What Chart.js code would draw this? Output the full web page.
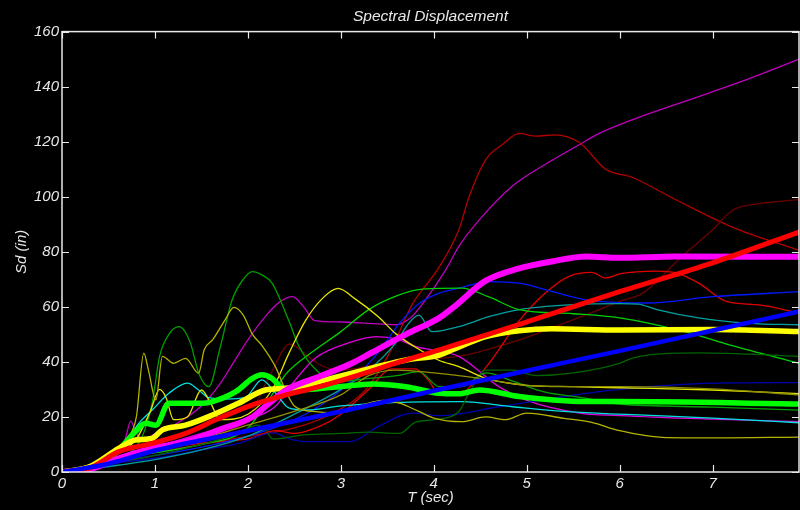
<!DOCTYPE html>
<html>
<head>
<meta charset="utf-8">
<title>Spectral Displacement</title>
<script src="https://cdn.jsdelivr.net/npm/chart.js@4.4.1/dist/chart.umd.min.js"></script>
<style>
  html, body { margin: 0; padding: 0; background: #000; }
  #wrap { width: 800px; height: 510px; }
</style>
</head>
<body>
<div id="wrap"><canvas id="sdChart" width="800" height="510"></canvas></div>
<script>
// Each record is a list of [T (sec), Sd (in)] pairs

// individual records (thin lines)
const recPurple = [[0,0],[0.3,1],[0.55,5],[0.68,12],[0.74,18.5],[0.8,14],[0.9,12],[1.0,14],[1.2,17],[1.5,24],[1.7,32],[1.85,40],[2.0,48],[2.2,57],[2.35,62],[2.48,63.7],[2.6,60],[2.72,55],[3.0,54.5],[3.3,54],[3.6,53.5],[3.75,56],[3.91,62.5],[4.13,73.5],[4.27,82],[4.49,91.6],[4.85,104],[5.21,112],[5.57,119],[5.78,123],[6.3,130],[6.86,136.5],[7.4,143],[7.93,150]];
const recDarkRed = [[0,0],[0.5,4],[1,7],[1.5,10],[2,13],[2.5,16],[2.95,22],[3.27,30],[3.52,43],[3.77,61],[4.04,73.5],[4.27,88],[4.38,100],[4.56,113.5],[4.74,119],[4.92,123],[5.1,122],[5.3,122.5],[5.57,119.6],[5.85,110],[6.14,107],[6.6,99],[7.21,89],[7.93,80.5]];
const recMaroon = [[0,0],[0.5,4],[1,8],[1.5,12],[2,20],[2.25,36],[2.45,46.5],[2.65,42],[2.8,38.5],[3.0,37],[3.44,39.5],[3.73,40.7],[4.27,42],[4.92,48],[5.4,54],[5.78,59],[6.0,62],[6.25,65],[6.67,78.3],[7.0,88],[7.21,95],[7.5,97.5],[7.72,98.3],[7.93,99]];
const recRed = [[0,0],[0.5,4],[1,8],[1.5,10.5],[2,12],[2.3,15],[2.5,14],[2.8,17],[3.0,21],[3.3,30],[3.55,37.5],[3.8,37.5],[3.95,33],[4.06,28],[4.25,28],[4.56,38],[4.92,55],[5.2,65],[5.45,71],[5.7,72.5],[5.85,70.5],[6.0,72],[6.4,73],[6.6,72.4],[6.85,68.6],[7.15,62],[7.5,60.7],[7.93,57.8]];
const recBlue = [[0,0],[0.5,3],[1,6],[1.5,9],[2,13],[2.5,19],[2.9,27],[3.2,36],[3.4,43.3],[3.63,54],[3.85,61.4],[4.06,65],[4.27,66.8],[4.6,69.2],[4.92,68.6],[5.27,65.6],[5.64,62.5],[6,61.5],[6.3,61.4],[7,63.7],[7.93,65.5]];
const recNavy = [[0,0],[0.5,3],[1,5],[1.5,8],[1.9,10.4],[2.27,14.2],[2.45,12],[2.62,11],[3.1,11],[3.4,16.5],[3.77,21.4],[4.06,20.5],[4.7,23.7],[5.4,27.4],[6,30],[7,32.3],[7.93,32.5]];
const recTeal = [[0,0],[0.5,2],[1,4.5],[1.5,8],[2,13],[2.5,21],[3,30],[3.3,37],[3.59,46.8],[3.73,54],[3.84,57],[3.98,51],[4.27,52.8],[4.6,56.5],[4.92,59],[5.45,60.7],[6,61.2],[6.2,61],[6.4,59],[6.85,56],[7.4,54],[7.93,53.5]];
const recCyan = [[0,0],[0.3,2],[0.55,7],[0.72,12.8],[0.83,17.8],[0.97,22.5],[1.15,28.6],[1.35,32.3],[1.47,29.8],[1.58,27],[1.76,26.5],[1.97,27],[2.15,33.5],[2.3,28.6],[2.44,23.3],[2.62,22.5],[3,24],[3.6,25.3],[4.3,25.6],[4.85,23.7],[5.4,22],[6,21],[7,19.6],[7.93,17.9]];
const recPink = [[0,0],[0.5,4],[1,9],[1.5,14],[2,19],[2.3,24],[2.5,33],[2.73,41.5],[3.09,47],[3.38,49.2],[3.63,48],[3.8,45.6],[4.27,42],[4.7,31],[5.0,26],[5.57,21.4],[6,20.5],[7,19.2],[7.93,18.3]];
const recGreenPeak = [[0,0],[0.3,1.5],[0.6,5],[0.85,12],[0.97,25],[1.05,42],[1.15,50],[1.26,52.8],[1.38,47],[1.47,36],[1.58,31],[1.7,45],[1.83,62.5],[1.95,70],[2.05,72.8],[2.15,71.6],[2.26,68.6],[2.44,55],[2.55,45.6],[2.77,36],[3.0,33],[3.3,34],[3.6,35],[3.84,36.5],[4.06,31],[4.3,31],[4.56,36],[4.85,33],[5.2,29],[5.6,27],[6,24.7],[7,23.6],[7.93,22.5]];
const recGreen = [[0,0],[0.5,4],[1,7],[1.5,10],[2,16],[2.2,25],[2.42,36],[2.68,43.3],[3.0,51],[3.3,59],[3.6,64],[3.9,66.5],[4.3,66.8],[4.6,63.5],[4.92,59],[5.5,57.5],[6,56],[6.7,51],[7.2,46],[7.93,39.5]];
const recDarkGreen = [[0,0],[0.5,3],[1,6],[1.5,10],[1.9,14],[2.1,17],[2.19,15.3],[2.27,12],[2.6,13.5],[3.0,14],[3.3,14.5],[3.63,14],[3.8,18],[4.0,19],[4.27,22],[4.37,28],[4.56,37],[4.85,37],[5.1,35],[5.5,36],[6.0,39.5],[6.15,41.5],[6.86,43.3],[7.93,42]];
const recOlive = [[0,0],[0.3,2],[0.55,6],[0.7,12],[0.8,20],[0.88,43.2],[0.93,37],[1.01,26.2],[1.08,42],[1.2,39.5],[1.33,41.3],[1.47,35.9],[1.53,44.4],[1.62,48],[1.75,55],[1.85,59.8],[1.95,57],[2.05,50],[2.15,46],[2.3,38],[2.4,30],[2.5,24],[2.7,22],[2.95,21.5],[3.2,24],[3.45,26],[3.63,25],[3.84,22],[4.0,19.6],[4.3,18.3],[4.56,20],[4.77,19],[5.0,21.4],[5.4,19.5],[5.7,18],[6.0,15],[6.5,12.5],[7.0,12.4],[7.93,12.7]];
const recYellow = [[0,0],[0.5,5],[0.8,12],[0.95,22],[1.05,30],[1.12,27],[1.2,19],[1.35,20],[1.5,29.8],[1.6,25],[1.7,19],[2.0,21],[2.26,29.8],[2.44,43],[2.62,55],[2.8,63],[2.97,66.7],[3.15,63],[3.4,56.5],[3.6,50],[3.85,44.4],[4.06,40.5],[4.27,38.3],[4.56,34],[5.0,31.5],[5.5,31],[6,30.6],[7,29.8],[7.93,28.5]];
const recOliveFlat = [[0,0],[0.5,4],[1,8],[1.5,12],[2,17],[2.5,22],[3.0,28],[3.3,35],[3.6,37],[4.0,36],[4.5,34],[5.0,31.5],[5.5,31],[6,31],[7,30.2],[7.93,28]];

// summary spectra (thick lines)
const thickMagenta = [[0,0],[0.3,1],[0.61,5],[0.97,8.6],[1.33,11],[1.69,15.3],[2.05,20],[2.23,25],[2.41,29.8],[2.77,34.7],[3.12,39.5],[3.34,43.5],[3.7,50],[4.06,56],[4.2,59.5],[4.56,69.5],[4.92,74],[5.27,76.5],[5.64,78.3],[6,77.8],[6.6,78.3],[7.93,78.2]];
const thickYellow = [[0,0],[0.3,2],[0.61,8.6],[0.79,11.6],[0.97,12.2],[1.08,15.3],[1.33,17],[1.62,20.7],[1.9,25],[2.19,29.8],[2.41,30.4],[2.62,31.6],[2.98,34.7],[3.34,37.8],[3.7,40.7],[4.06,42.5],[4.2,44.4],[4.56,49.2],[4.92,51.3],[5.27,52],[6,51.6],[7,51.8],[7.93,51]];
const thickGreen = [[0,0],[0.3,1.5],[0.5,5],[0.61,8],[0.79,14.7],[0.9,17.7],[1.01,17],[1.15,25],[1.51,25],[1.62,25.6],[1.87,29.2],[2.05,34],[2.15,35.3],[2.26,34],[2.37,30.5],[2.5,29.8],[2.98,31],[3.34,32],[3.7,31],[4.06,28.6],[4.27,28.4],[4.49,29.8],[4.92,27.4],[5.64,25.6],[6,25.6],[7.93,24.7]];
const thickRed = [[0,0],[0.3,1.5],[0.61,7.4],[0.97,10.4],[1.33,14],[1.69,19.5],[2.05,24.4],[2.41,28],[2.77,31],[3.2,35.3],[3.63,40],[4.06,44.4],[5,54.5],[6,65.5],[7,76],[7.93,87.2]];
const thickBlue = [[0,0],[0.5,3],[1,7.8],[2,15],[3,22],[4,29.5],[5,36.8],[6,44],[7,51.4],[7.93,58.3]];

const xTicks = [0, 1, 2, 3, 4, 5, 6, 7];
const yTicks = [0, 20, 40, 60, 80, 100, 120, 140, 160];

const thinLines = [
  [recOliveFlat, '#909000'],
  [recOlive, '#b4b400'],
  [recYellow, '#e6e600'],
  [recDarkGreen, '#006400'],
  [recGreenPeak, '#00a000'],
  [recGreen, '#00d200'],
  [recCyan, '#00e0e0'],
  [recTeal, '#00a0a0'],
  [recNavy, '#0000b0'],
  [recBlue, '#0018ff'],
  [recPink, '#e000e0'],
  [recRed, '#e00000'],
  [recMaroon, '#6a0000'],
  [recDarkRed, '#b40000'],
  [recPurple, '#c000c0']
];

// drawn last = on top
const thickLines = [
  [thickBlue, '#0000ff', 4.5, 1],
  [thickRed, '#ff0000', 5, 2],
  [thickMagenta, '#ff00ff', 6, 3],
  [thickYellow, '#ffff00', 5.5, 4],
  [thickGreen, '#00ff00', 5.5, 5]
];

const toPts = arr => arr.map(([t, d]) => ({ x: t, y: d }));

const datasets = [];
thinLines.forEach(([arr, col]) => {
  datasets.push({
    data: toPts(arr),
    borderColor: col,
    borderWidth: 1.3,
    order: 10
  });
});
thickLines.forEach(([arr, col, w, ord]) => {
  datasets.push({
    data: toPts(arr),
    borderColor: col,
    borderWidth: w,
    borderCapStyle: 'round',
    borderJoinStyle: 'round',
    order: ord
  });
});

const fg = '#e8e8e8';
const fontFamily = "'Liberation Sans', Arial, sans-serif";

// box frame with inward tick marks on all four sides
const boxTicks = {
  id: 'boxTicks',
  afterDatasetsDraw(chart) {
    const { ctx, chartArea: a, scales: { x, y } } = chart;
    ctx.save();
    ctx.strokeStyle = fg;
    ctx.lineWidth = 1.5;
    ctx.strokeRect(a.left, a.top, a.right - a.left, a.bottom - a.top);
    ctx.lineWidth = 1.2;
    ctx.beginPath();
    xTicks.forEach(v => {
      const px = Math.round(x.getPixelForValue(v)) + 0.5;
      ctx.moveTo(px, a.bottom); ctx.lineTo(px, a.bottom - 7);
      ctx.moveTo(px, a.top); ctx.lineTo(px, a.top + 7);
    });
    yTicks.forEach(v => {
      const py = Math.round(y.getPixelForValue(v)) + 0.5;
      ctx.moveTo(a.left, py); ctx.lineTo(a.left + 7, py);
      ctx.moveTo(a.right, py); ctx.lineTo(a.right - 7, py);
    });
    ctx.stroke();
    ctx.restore();
  }
};

new Chart(document.getElementById('sdChart'), {
  type: 'line',
  data: { datasets },
  options: {
    responsive: false,
    animation: false,
    events: [],
    layout: { padding: { left: 0, right: 1, top: 0, bottom: 0 } },
    elements: {
      point: { radius: 0 },
      line: { cubicInterpolationMode: 'monotone', fill: false }
    },
    scales: {
      x: {
        type: 'linear',
        min: 0,
        max: 7.93,
        afterBuildTicks: s => { s.ticks = xTicks.map(v => ({ value: v })); },
        afterFit: s => { s.height = 38; },
        grid: { display: false, drawTicks: false },
        border: { display: false },
        ticks: {
          color: fg,
          padding: 3,
          maxRotation: 0,
          autoSkip: false,
          font: { family: fontFamily, size: 15, style: 'italic' }
        },
        title: {
          display: true,
          text: 'T (sec)',
          color: fg,
          padding: { top: 0, bottom: 3 },
          font: { family: fontFamily, size: 15, style: 'italic' }
        }
      },
      y: {
        type: 'linear',
        min: 0,
        max: 160,
        afterBuildTicks: s => { s.ticks = yTicks.map(v => ({ value: v })); },
        afterFit: s => { s.width = 62; },
        grid: { display: false, drawTicks: false },
        border: { display: false },
        ticks: {
          color: fg,
          padding: 3,
          autoSkip: false,
          font: { family: fontFamily, size: 15, style: 'italic' }
        },
        title: {
          display: true,
          text: 'Sd (in)',
          color: fg,
          padding: { top: 13, bottom: 0 },
          font: { family: fontFamily, size: 15, style: 'italic' }
        }
      }
    },
    plugins: {
      legend: { display: false },
      tooltip: { enabled: false },
      title: {
        display: true,
        text: 'Spectral Displacement',
        color: fg,
        fullSize: false,
        padding: { top: 7, bottom: 6 },
        font: { family: fontFamily, size: 15.5, style: 'italic', weight: 'normal' }
      }
    }
  },
  plugins: [boxTicks]
});
</script>
</body>
</html>
